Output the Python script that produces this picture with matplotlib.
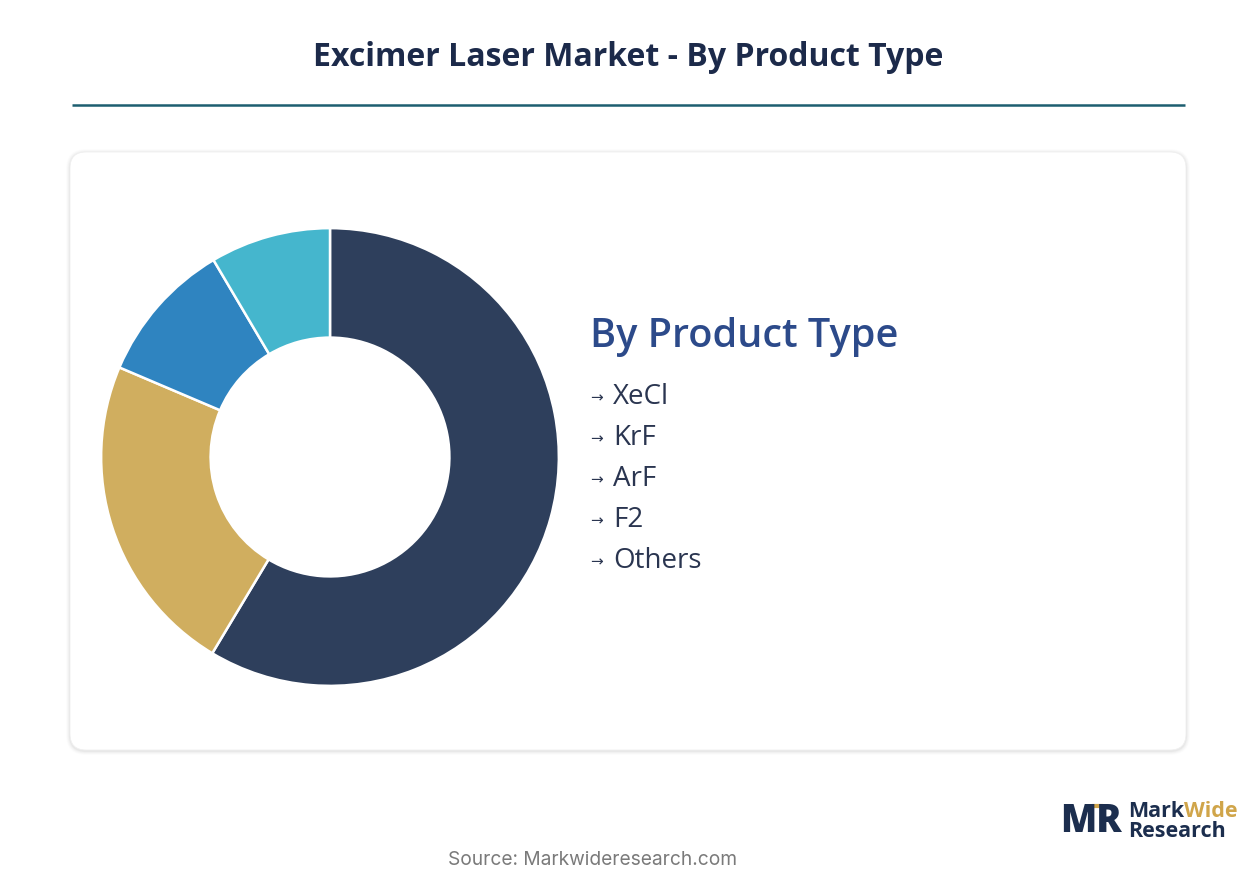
import matplotlib
matplotlib.use("Agg")
import matplotlib.pyplot as plt
from matplotlib.patches import FancyBboxPatch

# ---- data ----
title = "Excimer Laser Market - By Product Type"
legend_title = "By Product Type"
categories = ["XeCl", "KrF", "ArF", "F2", "Others"]
shares = [58.6, 22.8, 10.1, 8.5, 0.0]
colors = ["#2e3f5c", "#d0ae5f", "#2f84c0", "#45b6cd", "#9aa5b1"]
source = "Source: Markwideresearch.com"

W, H = 1257, 888
fig = plt.figure(figsize=(W / 100, H / 100), dpi=100)
fig.patch.set_facecolor("white")

bg = fig.add_axes([0, 0, 1, 1])
bg.set_xlim(0, W)
bg.set_ylim(H, 0)
bg.axis("off")

FAM = ["Open Sans", "DejaVu Sans"]

# title and rule
bg.text(628, 58, title, ha="center", va="center", fontsize=23, fontweight="bold",
        color="#1c2a4a", family=FAM)
bg.plot([72, 1185], [105, 105], color="#1d5e70", lw=1.8, solid_capstyle="butt")

# card with soft shadow
for i, a in enumerate([0.012, 0.018, 0.025, 0.035]):
    pad = 4 - i
    bg.add_patch(FancyBboxPatch((70 - pad, 152 - pad + 1), 1116 + 2 * pad, 598 + 2 * pad,
                                boxstyle="round,pad=0,rounding_size=%d" % (16 + pad),
                                fc=(0, 0, 0, a), ec="none", lw=0))
bg.add_patch(FancyBboxPatch((70, 152), 1116, 598, boxstyle="round,pad=0,rounding_size=16",
                            fc="white", ec="#efefef", lw=0.6))

# donut
cx, cy, r = 330, 457, 230
pax = fig.add_axes([(cx - r) / W, (H - cy - r) / H, 2 * r / W, 2 * r / H])
vals = [v for v in shares if v > 0]
cols = [c for v, c in zip(shares, colors) if v > 0]
pax.pie(vals, colors=cols, startangle=90, counterclock=False, radius=1.0,
        wedgeprops=dict(width=110 / 230, edgecolor="white", linewidth=1.8))
pax.set_xlim(-1.005, 1.005)
pax.set_ylim(-1.005, 1.005)
pax.set_aspect("equal")
pax.axis("off")

# legend block
bg.text(590, 337, legend_title, ha="left", va="center", fontsize=28.5, fontweight="semibold",
        color="#2c4a8a", family=FAM)
for i, c in enumerate(categories):
    y = 397 + i * 41
    bg.text(590, y + 1, "→", ha="left", va="center", fontsize=11, color="#2a3550",
            family=["DejaVu Sans"])
    bg.text(613, y, c, ha="left", va="center", fontsize=20, color="#2a3550",
            family=FAM)

# source
bg.text(593, 860, source, ha="center", va="center", fontsize=13.8, color="#7a7a7a",
        family=["Inter", "DejaVu Sans"])

# logo
bg.text(1060, 821, "MR", ha="left", va="center", fontsize=27, fontweight="heavy",
        color="#1c2e4e", family=FAM)
bg.plot([1094, 1101], [806, 806], color="#d0a54a", lw=3)
bg.text(1128, 811, "Mark", ha="left", va="center", fontsize=15.5, fontweight="bold",
        color="#1c2e4e", family=FAM)
bg.text(1184, 811, "Wide", ha="left", va="center", fontsize=15.5, fontweight="bold",
        color="#d0a54a", family=FAM)
bg.text(1128, 831, "Research", ha="left", va="center", fontsize=15.5, fontweight="bold",
        color="#1c2e4e", family=FAM)

fig.savefig("out.png", dpi=100, facecolor="white")
